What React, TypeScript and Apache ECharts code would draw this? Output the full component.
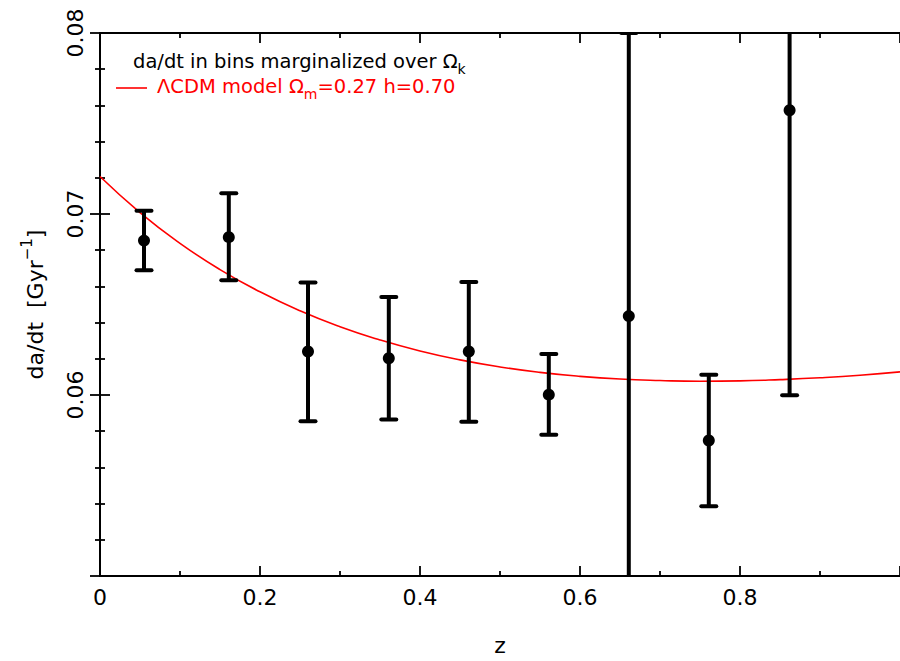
import React, { useEffect, useRef } from "react";
import * as echarts from "echarts";

// Binned measurements of da/dt (Gyr^-1) vs redshift z
const binZ = [0.055, 0.161, 0.26, 0.361, 0.461, 0.561, 0.661, 0.761, 0.862];
const binValue = [0.06853, 0.06872, 0.0624, 0.06203, 0.0624, 0.06002, 0.06436, 0.05749, 0.07573];
const binUpper = [0.07018, 0.07114, 0.06621, 0.06542, 0.06625, 0.06227, 0.08, 0.06112, 0.0915];
const binLower = [0.06689, 0.06634, 0.05855, 0.05864, 0.05852, 0.0578, 0.0487, 0.05386, 0.05998];

// LambdaCDM model curve
const modelZ = [0, 0.05, 0.1, 0.15, 0.2, 0.25, 0.3, 0.35, 0.4, 0.45, 0.5, 0.55, 0.6, 0.65, 0.7, 0.75, 0.8, 0.85, 0.9, 0.95, 1.0];
const modelValue = [0.07207, 0.07008, 0.06838, 0.06693, 0.0657, 0.06465, 0.06377, 0.06304, 0.06243, 0.06194, 0.06155, 0.06125, 0.06103, 0.06088, 0.0608, 0.06076, 0.06078, 0.06085, 0.06095, 0.06109, 0.06128];

const xTicks = { min: 0, max: 1, interval: 0.2 };
const yTicks = { min: 0.05, max: 0.08, interval: 0.01 };

const FONT = "DejaVu Sans";

export default function App() {
  const ref = useRef<HTMLDivElement>(null);
  useEffect(() => {
    if (!ref.current) return;
    const chart = echarts.init(ref.current, undefined, { renderer: "svg" });
    const axisLine = { show: true, lineStyle: { color: "#000", width: 2 } };
    const axisTick = { show: true, inside: true, length: 10, lineStyle: { color: "#000", width: 1.8 } };
    const minorTickX = { show: true, splitNumber: 2, length: 5, lineStyle: { color: "#000", width: 1.8 } };
    const minorTickY = { show: true, splitNumber: 5, length: 5, lineStyle: { color: "#000", width: 1.8 } };
    const errData = binZ.map((z, i) => [z, binLower[i], binUpper[i]]);
    chart.setOption({
      animation: false,
      backgroundColor: "#fff",
      grid: { left: 100, top: 33, width: 800, height: 546, containLabel: false },
      xAxis: [
        {
          type: "value",
          position: "bottom",
          ...xTicks,
          axisLine,
          axisTick,
          minorTick: minorTickX,
          splitLine: { show: false },
          axisLabel: { show: true, showMaxLabel: false, margin: 10, fontSize: 22, color: "#000", fontFamily: FONT, formatter: (v: number) => (v === 0 ? "0" : String(+v.toFixed(1))) },
          name: "z",
          nameLocation: "middle",
          nameGap: 58,
          nameTextStyle: { fontSize: 22, color: "#000", fontFamily: FONT },
        },
        {
          type: "value",
          position: "top",
          ...xTicks,
          axisLine,
          axisTick,
          minorTick: minorTickX,
          splitLine: { show: false },
          axisLabel: { show: false },
        },
      ],
      yAxis: [
        {
          type: "value",
          position: "left",
          ...yTicks,
          axisLine,
          axisTick,
          minorTick: minorTickY,
          splitLine: { show: false },
          axisLabel: { show: true, showMinLabel: false, rotate: 90, margin: 14, fontSize: 22, color: "#000", fontFamily: FONT, formatter: (v: number) => v.toFixed(2) },
          name: "{a|da/dt  [Gyr}{s|−1}{a|]}",
          nameLocation: "middle",
          nameGap: 49,
          nameTextStyle: {
            color: "#000",
            fontFamily: FONT,
            rich: {
              a: { fontSize: 22, lineHeight: 32, fontFamily: FONT, color: "#000" },
              s: { fontSize: 15, verticalAlign: "top", fontFamily: FONT, color: "#000" },
            },
          },
        },
        {
          type: "value",
          position: "right",
          ...yTicks,
          axisLine,
          axisTick,
          minorTick: minorTickY,
          splitLine: { show: false },
          axisLabel: { show: false },
        },
      ],
      series: [
        {
          type: "line",
          data: modelZ.map((z, i) => [z, modelValue[i]]),
          showSymbol: false,
          smooth: true,
          lineStyle: { color: "#ff0000", width: 1.6 },
          z: 1,
        },
        {
          type: "custom",
          clip: true,
          data: errData,
          encode: { x: 0, y: [1, 2] },
          renderItem: (params: any, api: any) => {
            const x = api.value(0);
            const lo = api.coord([x, api.value(1)]);
            const hi = api.coord([x, api.value(2)]);
            const cap = 7.5;
            const style = { stroke: "#000", lineWidth: 4 };
            return {
              type: "group",
              children: [
                { type: "line", shape: { x1: lo[0], y1: lo[1], x2: hi[0], y2: hi[1] }, style },
                { type: "line", shape: { x1: lo[0] - cap, y1: lo[1], x2: lo[0] + cap, y2: lo[1] }, style: { ...style, lineCap: "round" } },
                { type: "line", shape: { x1: hi[0] - cap, y1: hi[1], x2: hi[0] + cap, y2: hi[1] }, style: { ...style, lineCap: "round" } },
              ],
            };
          },
          z: 2,
        },
        {
          type: "scatter",
          data: binZ.map((z, i) => [z, binValue[i]]),
          symbol: "circle",
          symbolSize: 12,
          itemStyle: { color: "#000", opacity: 1 },
          z: 3,
        },
      ],
      graphic: [
        {
          type: "text",
          left: 133,
          top: 51,
          style: {
            text: "{a|da/dt in bins marginalized over Ω}{s|k}",
            rich: {
              a: { fontSize: 19.5, lineHeight: 30, fontFamily: FONT, fill: "#000" },
              s: { fontSize: 14, verticalAlign: "bottom", fontFamily: FONT, fill: "#000" },
            },
          },
        },
        {
          type: "line",
          shape: { x1: 116, y1: 88, x2: 147, y2: 88 },
          style: { stroke: "#ff0000", lineWidth: 1.6 },
        },
        {
          type: "text",
          left: 157,
          top: 76,
          style: {
            text: "{a|ΛCDM model Ω}{s|m}{a|=0.27 h=0.70}",
            rich: {
              a: { fontSize: 19.5, lineHeight: 30, fontFamily: FONT, fill: "#ff0000" },
              s: { fontSize: 14, verticalAlign: "bottom", fontFamily: FONT, fill: "#ff0000" },
            },
          },
        },
      ],
    });
    return () => chart.dispose();
  }, []);
  return <div ref={ref} style={{ position: "absolute", left: 0, top: 0, width: 900, height: 661 }} />;
}
